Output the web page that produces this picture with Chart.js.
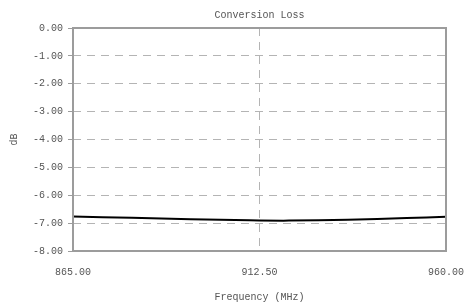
<!DOCTYPE html>
<html>
<head>
<meta charset="UTF-8">
<title>Conversion Loss</title>
<style>
    body { margin: 0; padding: 0; background: #fff; }
    #wrap { width: 464px; height: 302px; }
</style>
<script src="https://cdn.jsdelivr.net/npm/chart.js"></script>
</head>
<body>
<div id="wrap"><canvas id="myChart" width="464" height="302"></canvas></div>
<script>
    // data
    const freqs = [865, 880, 895, 910, 920, 935, 950, 960];
    const loss = [-6.76, -6.81, -6.86, -6.90, -6.91, -6.88, -6.82, -6.77];
    const xTicks = [865, 912.5, 960];
    const yTicks = [0, -1, -2, -3, -4, -5, -6, -7, -8];

    const FONT = "'Liberation Mono', 'DejaVu Sans Mono', monospace";
    const TEXT = '#555';
    const GRID = '#b4b4b4';
    const FRAME = '#9c9c9c';

    // box around the plot area
    const frame = {
        id: 'frame',
        afterDraw(chart) {
            const a = chart.chartArea, c = chart.ctx;
            c.save();
            c.strokeStyle = FRAME;
            c.lineWidth = 2;
            c.strokeRect(a.left, a.top, a.right - a.left, a.bottom - a.top);
            c.restore();
        }
    };

    const ctx = document.getElementById('myChart').getContext('2d');
    new Chart(ctx, {
        type: 'line',
        data: {
            datasets: [{
                data: freqs.map((f, i) => ({ x: f, y: loss[i] })),
                borderColor: '#000',
                borderWidth: 2,
                pointRadius: 0,
                tension: 0.3,
                fill: false
            }]
        },
        options: {
            responsive: false,
            animation: false,
            layout: { padding: { left: 0, right: 18, top: 0, bottom: 0 } },
            plugins: {
                legend: { display: false },
                tooltip: { enabled: false },
                title: {
                    display: true,
                    fullSize: false,
                    text: 'Conversion Loss',
                    color: TEXT,
                    font: { family: FONT, size: 10, weight: 'normal', lineHeight: 1.2 },
                    padding: { top: 9, bottom: 7 }
                }
            },
            scales: {
                x: {
                    type: 'linear',
                    min: 865,
                    max: 960,
                    afterBuildTicks: s => { s.ticks = xTicks.map(v => ({ value: v })); },
                    afterFit: s => { s.height = 51; s.paddingLeft = 0; s.paddingRight = 0; },
                    border: { display: false, dash: [8, 6] },
                    grid: {
                        color: GRID,
                        lineWidth: 1,
                        drawTicks: false
                    },
                    ticks: {
                        color: TEXT,
                        font: { family: FONT, size: 10 },
                        padding: 15,
                        maxRotation: 0,
                        callback: v => v.toFixed(2)
                    },
                    title: {
                        display: true,
                        text: 'Frequency (MHz)',
                        color: TEXT,
                        font: { family: FONT, size: 10, lineHeight: 1.0 },
                        padding: { top: 0, bottom: 0 }
                    }
                },
                y: {
                    min: -8,
                    max: 0,
                    afterBuildTicks: s => { s.ticks = yTicks.map(v => ({ value: v })); },
                    afterFit: s => { s.width = 73; s.paddingTop = 0; s.paddingBottom = 0; },
                    border: { display: false, dash: [8, 6] },
                    grid: {
                        color: GRID,
                        lineWidth: 1,
                        tickLength: 5,
                        tickColor: FRAME,
                        tickBorderDash: []
                    },
                    ticks: {
                        color: TEXT,
                        font: { family: FONT, size: 10 },
                        padding: 5,
                        callback: v => v.toFixed(2)
                    },
                    title: {
                        display: true,
                        text: 'dB',
                        color: TEXT,
                        font: { family: FONT, size: 10, lineHeight: 1.2 },
                        padding: { top: 8, bottom: 0 }
                    }
                }
            }
        },
        plugins: [frame]
    });
</script>
</body>
</html>
